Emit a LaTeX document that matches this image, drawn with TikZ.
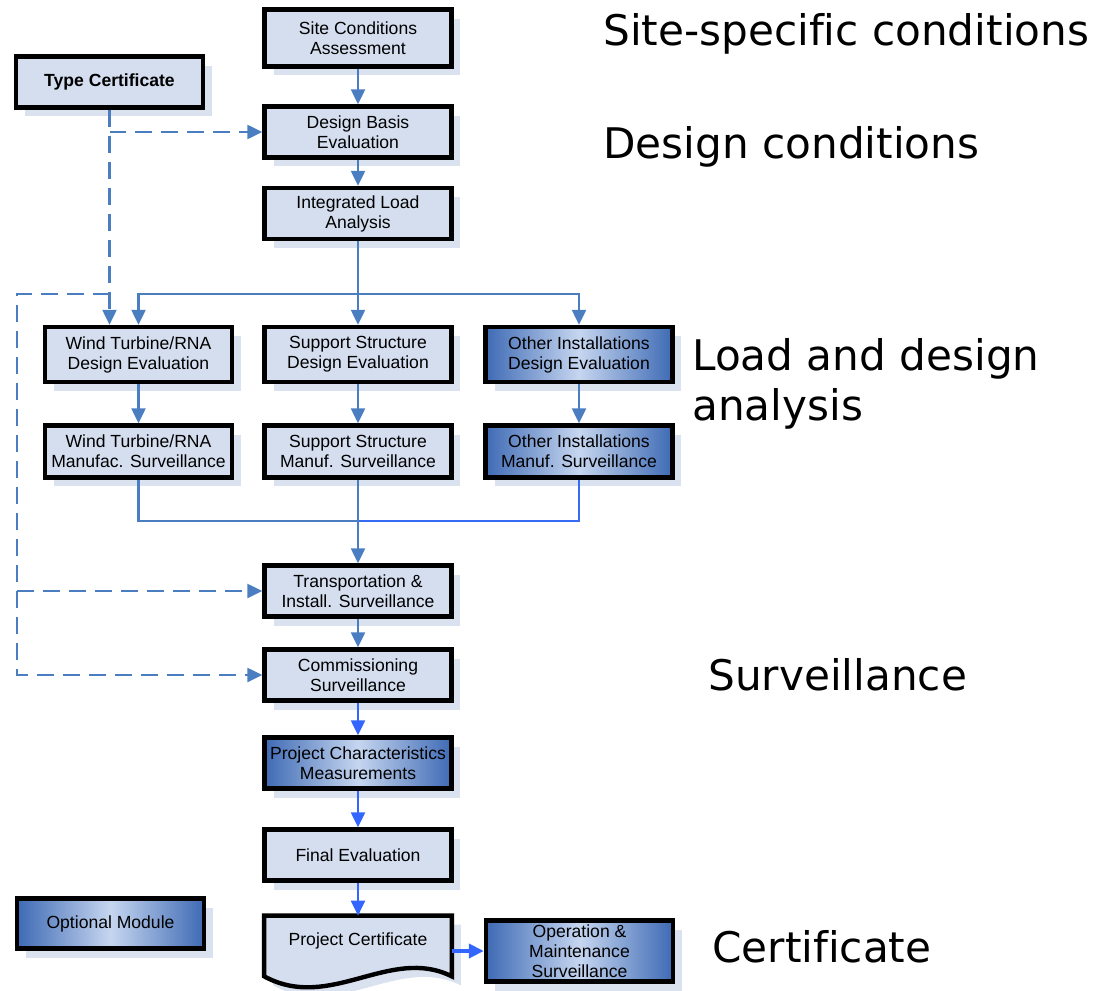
\documentclass[tikz,border=0pt]{standalone}
\usepackage{fontspec}
\setmainfont{Liberation Sans}
\newfontfamily\phaseFont[Ligatures = NoCommon]{DejaVu Sans}
\usepackage{tikz}
\usetikzlibrary{positioning, arrows.meta, shadows}
\tikzstyle{chart} = [x = 0.02cm, y = -0.02cm]
\definecolor{boxColor}{RGB}{212,222,239}
\definecolor{shadowColor}{RGB}{218,226,240}
\definecolor{lineColor}{RGB}{74,126,193}
\definecolor{brightLine}{RGB}{51,102,255}
\definecolor{optionDark}{RGB}{62,106,180}
\definecolor{optionLight}{RGB}{198,214,240}
\tikzstyle{boxShadow} = [drop shadow = {shadow xshift = .18cm, shadow yshift = -.18cm, fill = shadowColor, opacity = 1}]
\tikzstyle{stepBoxStyle} = [draw = black, line width = 2.5pt, fill = boxColor, boxShadow, minimum width = 3.74cm, minimum height = 1.04cm, align = center, inner sep = 0pt, font = \fontsize{10}{11.4}\selectfont]
\tikzstyle{optionBoxStyle} = [stepBoxStyle, left color = optionDark, right color = optionDark, middle color = optionLight]
\tikzstyle{docStyle} = [draw = black, line width = 2.5pt, fill = boxColor, boxShadow]
\tikzstyle{joinLine} = [color = lineColor, line width = 1.3pt]
\tikzstyle{flowLine} = [joinLine, -{Triangle[length = .3cm, width = .28cm]}]
\tikzstyle{brightFlow} = [flowLine, color = brightLine]
\tikzstyle{dashedFlow} = [flowLine, dash pattern = on .34cm off .18cm]
\tikzstyle{phaseText} = [font = \phaseFont\fontsize{24}{29}\selectfont, anchor = base west, inner sep = 0pt]
\newcommand{\stepBox}[4]{\node [stepBoxStyle, minimum height = #3] (#1) at (#2) {#4};}
\newcommand{\optionBox}[4]{\node [optionBoxStyle, minimum height = #3] (#1) at (#2) {#4};}

\begin{document}
\begin{tikzpicture}[chart]
          \useasboundingbox (0,0) rectangle (1111,990);
          \stepBox{siteConditions}{358,38}{1.14cm}{Site Conditions\\Assessment}
          \stepBox{typeCert}{109.5,82}{1.02cm}{\bfseries Type Certificate}
          \stepBox{designBasis}{358,132}{1.02cm}{Design Basis\\Evaluation}
          \stepBox{integratedLoad}{358,213.5}{1.02cm}{Integrated Load\\Analysis}
          \stepBox{windDesign}{138.5,354.5}{1.1cm}{Wind Turbine/RNA\\Design Evaluation}
          \stepBox{supportDesign}{358,354.5}{1.1cm}{Support Structure\\Design Evaluation}
          \optionBox{otherDesign}{579,354.5}{1.1cm}{Other Installations\\Design Evaluation}
          \stepBox{windManuf}{138.5,451.5}{1.04cm}{Wind Turbine/RNA\\Manufac. Surveillance}
          \stepBox{supportManuf}{358,451.5}{1.04cm}{Support Structure\\Manuf. Surveillance}
          \optionBox{otherManuf}{579,451.5}{1.04cm}{Other Installations\\Manuf. Surveillance}
          \stepBox{transportSurv}{358,591}{1.02cm}{Transportation \&\\Install. Surveillance}
          \stepBox{commissionSurv}{358,675}{1.02cm}{Commissioning\\Surveillance}
          \optionBox{projectMeasure}{358,763}{1.02cm}{Project Characteristics\\Measurements}
          \stepBox{finalEval}{358,855}{1.02cm}{Final Evaluation}
          \node [minimum width = 3.74cm, minimum height = 1.2cm, inner sep = 0pt] (projCert) at (358,946) {};
          \filldraw [docStyle] (projCert.south west) -- (projCert.north west) -- (projCert.north east) -- (projCert.south east) .. controls +(-62,-31) and +(66,36) .. (projCert.south west) -- cycle;
          \node [font = \fontsize{10}{11.4}\selectfont] at (358,941) {Project Certificate};
          \optionBox{operationSurv}{579.5,951}{1.22cm}{Operation \&\\Maintenance\\Surveillance}
          \optionBox{optionalModule}{110.5,923.5}{1.0cm}{Optional Module}

          \coordinate (loadSplit) at (358,294);
          \coordinate (dashCorner) at (17,294);
          \coordinate (manufJoin) at (358,521);

          \draw [flowLine] (siteConditions) -- (designBasis);
          \draw [flowLine] (designBasis) -- (integratedLoad);
          \draw [flowLine] (integratedLoad) -- (supportDesign);
          \draw [flowLine] (loadSplit) -| (windDesign);
          \draw [flowLine] (loadSplit) -| (otherDesign);
          \draw [flowLine] (windDesign) -- (windManuf);
          \draw [flowLine] (supportDesign) -- (supportManuf);
          \draw [flowLine] (otherDesign) -- (otherManuf);
          \draw [joinLine] (windManuf) |- (manufJoin);
          \draw [joinLine, color = brightLine!80!lineColor] (otherManuf) |- (manufJoin);
          \draw [flowLine] (supportManuf) -- (transportSurv);
          \draw [flowLine] (transportSurv) -- (commissionSurv);
          \draw [brightFlow] (commissionSurv) -- (projectMeasure);
          \draw [brightFlow] (projectMeasure) -- (finalEval);
          \draw [brightFlow] (finalEval) -- (projCert);
          \draw [brightFlow, line width = 2.2pt] (projCert.east |- operationSurv) -- (operationSurv);

          \draw [dashedFlow] (typeCert) -- (typeCert.south |- windDesign.north);
          \draw [dashedFlow] (typeCert.south |- designBasis) -- (designBasis);
          \draw [dashedFlow] (typeCert.south |- dashCorner) -- (dashCorner) |- (commissionSurv);
          \draw [dashedFlow] (dashCorner |- transportSurv) -- (transportSurv);

          \node [phaseText] (siteLabel) at (603,46) {Site-specific conditions};
          \node [phaseText] (designLabel) at (603,158) {Design conditions};
          \node [phaseText] (loadLabel) at (692,370) {Load and design};
          \node [phaseText] (loadLabelEnd) at (692,420) {analysis};
          \node [phaseText] (survLabel) at (708,690) {Surveillance};
          \node [phaseText] (certLabel) at (712,962) {Certificate};
        \end{tikzpicture}
\end{document}
